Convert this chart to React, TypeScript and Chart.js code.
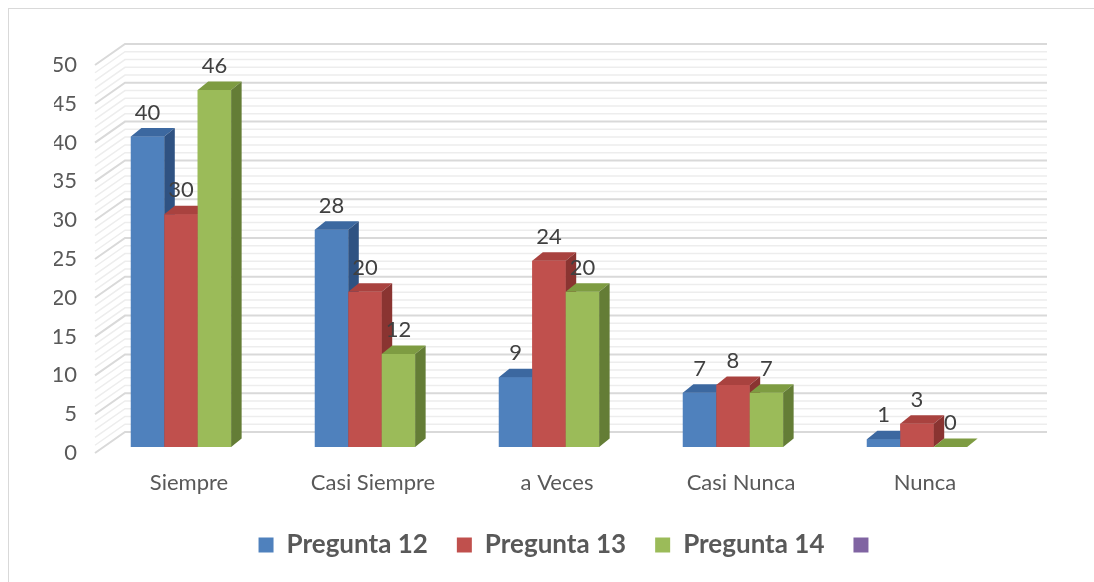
import React, { useEffect, useRef } from 'react';
import { Chart, registerables } from 'chart.js';

Chart.register(...registerables);

const categories = ['Siempre', 'Casi Siempre', 'a Veces', 'Casi Nunca', 'Nunca'];
const seriesNames = ['Pregunta 12', 'Pregunta 13', 'Pregunta 14'];
const pregunta12 = [40, 28, 9, 7, 1];
const pregunta13 = [30, 20, 24, 8, 3];
const pregunta14 = [46, 12, 20, 7, 0];
const yMin = 0;
const yMax = 50;
const yStep = 5;

const frontColors = ['#4F81BD', '#C0504D', '#9BBB59'];
const topColors = ['#3C68A0', '#A9423F', '#7E9C42'];
const sideColors = ['#2F5282', '#8A3431', '#647D36'];
const extraLegendColor = '#8064A2';

const FONT = 'Lato, "Open Sans", sans-serif';
const DX = 10.5;
const DY = -8.5;

const wallPlugin = {
  id: 'walls3d',
  beforeDatasetsDraw(chart: any) {
    const { ctx, chartArea, scales } = chart;
    const { left, right } = chartArea;
    const y = scales.y;
    ctx.save();
    for (const pass of [0, 1]) {
      for (let v = yMin; v <= yMax; v++) {
        const major = v % yStep === 0;
        if ((pass === 1) !== major) continue;
        const py = y.getPixelForValue(v);
        ctx.strokeStyle = major ? '#d9d9d9' : '#ededed';
        ctx.lineWidth = major ? 2 : 1.5;
        ctx.beginPath();
        ctx.moveTo(left + 6, py + 6);
        ctx.lineTo(left + 36, py - 15);
        ctx.lineTo(right + 38, py - 15);
        ctx.stroke();
      }
    }
    ctx.restore();
  },
};

const barsPlugin = {
  id: 'bars3d',
  afterDatasetsDraw(chart: any) {
    const { ctx } = chart;
    const items: any[] = [];
    chart.data.datasets.forEach((ds: any, di: number) => {
      const meta = chart.getDatasetMeta(di);
      meta.data.forEach((el: any, i: number) => {
        const p = el.getProps(['x', 'y', 'base', 'width'], true);
        items.push({ ...p, di, value: ds.data[i] });
      });
    });
    items.sort((a, b) => a.x - b.x);
    ctx.save();
    for (const it of items) {
      const l = it.x - it.width / 2;
      const r = it.x + it.width / 2;
      const top = it.y;
      const base = it.base;
      ctx.fillStyle = frontColors[it.di];
      ctx.fillRect(l, top, r - l, base - top);
      ctx.fillStyle = topColors[it.di];
      ctx.beginPath();
      ctx.moveTo(l, top);
      ctx.lineTo(l + DX, top + DY);
      ctx.lineTo(r + DX, top + DY);
      ctx.lineTo(r, top);
      ctx.closePath();
      ctx.fill();
      if (base - top > 0.5) {
        ctx.fillStyle = sideColors[it.di];
        ctx.beginPath();
        ctx.moveTo(r, top);
        ctx.lineTo(r + DX, top + DY);
        ctx.lineTo(r + DX, base + DY);
        ctx.lineTo(r, base);
        ctx.closePath();
        ctx.fill();
      }
    }
    ctx.fillStyle = '#404040';
    ctx.font = `22px ${FONT}`;
    ctx.textAlign = 'center';
    ctx.textBaseline = 'middle';
    for (const it of items) {
      ctx.fillText(String(it.value), it.x, it.y - 24);
    }
    ctx.restore();
  },
};

export default function App() {
  const ref = useRef<HTMLCanvasElement>(null);
  useEffect(() => {
    if (!ref.current) return;
    const datasets = [pregunta12, pregunta13, pregunta14].map((d, i) => ({
      label: seriesNames[i],
      data: d,
      backgroundColor: frontColors[i],
      borderWidth: 0,
      categoryPercentage: 0.545,
      barPercentage: 1,
    }));
    const chart = new Chart(ref.current, {
      type: 'bar',
      data: { labels: categories, datasets },
      plugins: [wallPlugin, barsPlugin],
      options: {
        responsive: false,
        animation: false,
        layout: { padding: { top: 51, left: 46, right: 0, bottom: 6 } },
        scales: {
          x: {
            grid: { display: false, drawTicks: false },
            border: { display: false },
            ticks: {
              color: '#595959',
              font: { family: FONT, size: 22 },
              labelOffset: 8,
              padding: 23,
              maxRotation: 0,
              autoSkip: false,
            },
            afterFit: (s: any) => { s.height = 56; },
          },
          y: {
            min: yMin,
            max: yMax,
            grid: { display: false, drawTicks: false },
            border: { display: false },
            ticks: {
              stepSize: yStep,
              color: '#595959',
              font: { family: FONT, size: 22 },
              labelOffset: 6,
              padding: 12,
            },
            afterFit: (s: any) => { s.width = 35; },
          },
          yRight: {
            position: 'right',
            min: 0,
            max: 1,
            grid: { display: false, drawTicks: false },
            border: { display: false },
            ticks: { display: false },
            afterFit: (s: any) => { s.width = 77; },
          },
        },
        plugins: {
          tooltip: { enabled: false },
          legend: {
            position: 'bottom',
            labels: {
              color: '#595959',
              font: { family: FONT, size: 26, weight: 'bold' },
              boxWidth: 15,
              boxHeight: 15,
              padding: 29,
              generateLabels: (ch: any) => {
                const list: any[] = ch.data.datasets.map((ds: any, i: number) => ({
                  text: ds.label,
                  fillStyle: frontColors[i],
                  strokeStyle: frontColors[i],
                  lineWidth: 0,
                  hidden: false,
                  datasetIndex: i,
                  fontColor: '#595959',
                }));
                list.push({
                  text: '',
                  fillStyle: extraLegendColor,
                  strokeStyle: extraLegendColor,
                  lineWidth: 0,
                  hidden: false,
                  fontColor: '#595959',
                });
                return list;
              },
            },
          },
        },
      },
    } as any);
    return () => chart.destroy();
  }, []);

  return (
    <div style={{ position: 'fixed', left: 0, top: 0, width: 1094, height: 582, overflow: 'hidden', background: '#fff' }}>
      <div style={{ position: 'absolute', left: 8, top: 8, width: 1200, height: 700, border: '1px solid #d9d9d9' }} />
      <canvas ref={ref} width={1078} height={566} style={{ position: 'absolute', left: 8, top: 8, display: 'block' }} />
    </div>
  );
}
